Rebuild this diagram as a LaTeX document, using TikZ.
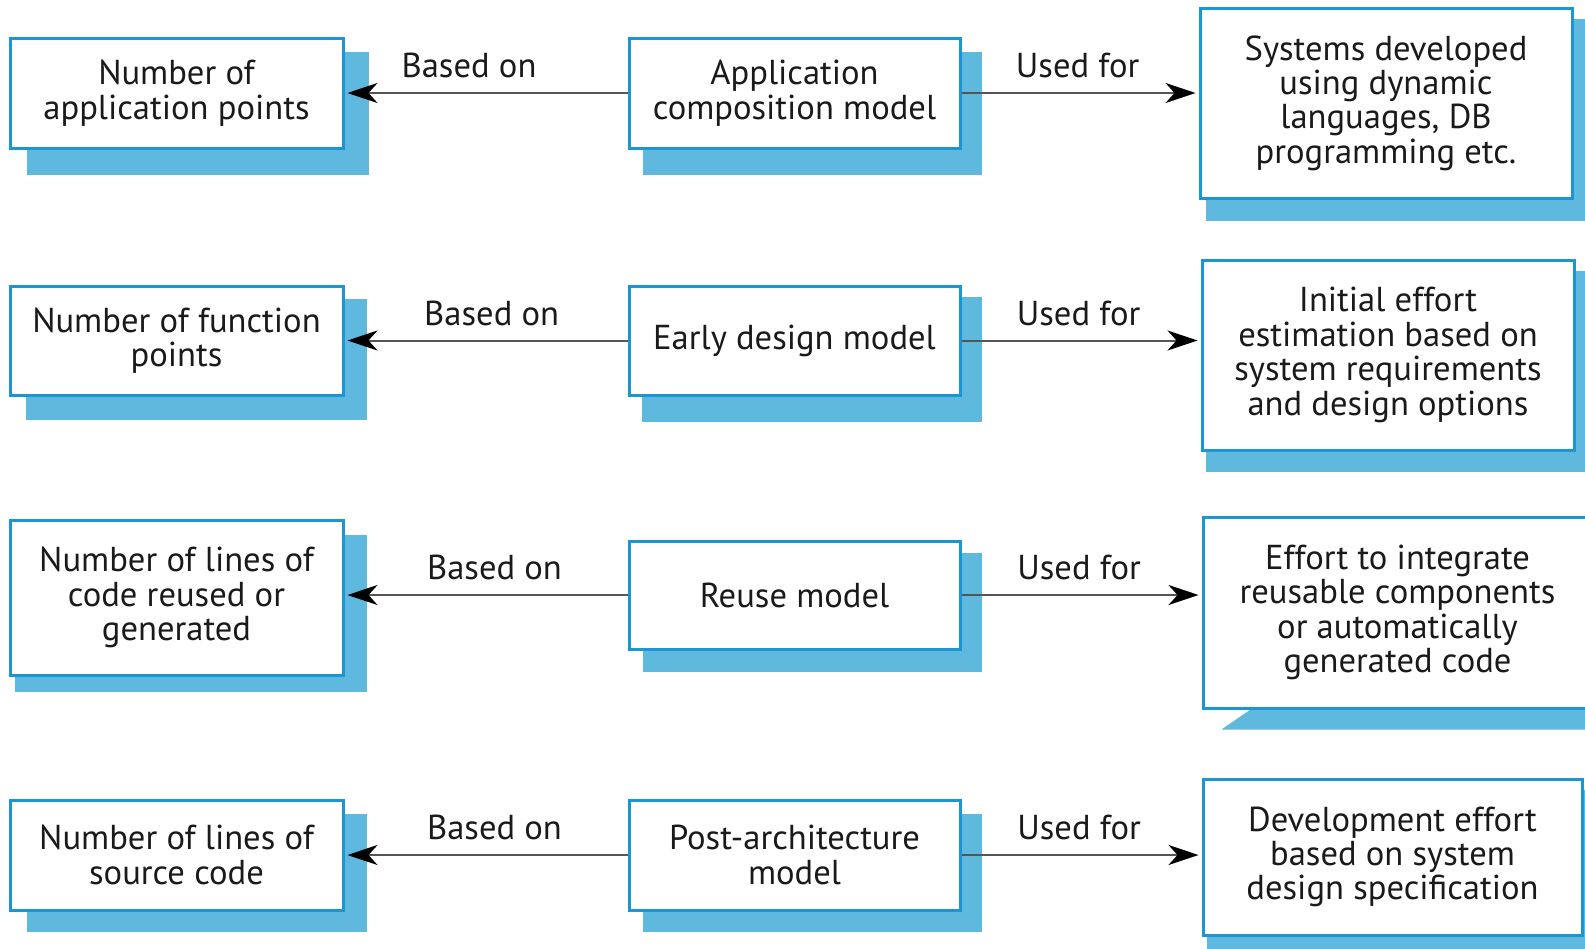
\documentclass[tikz,border=0pt]{standalone}
\usepackage{fontspec}
\setmainfont{PT Sans}
\usetikzlibrary{arrows.meta,calc,backgrounds}
\definecolor{boxblue}{HTML}{1A96D5}
\definecolor{shadeblue}{HTML}{5FB9DE}
\definecolor{textgray}{HTML}{1A1A1A}
\definecolor{linegray}{HTML}{555555}
\tikzset{
  modelbox/.style={draw=boxblue, line width=1.5pt, fill=white, align=center, text=textgray, inner sep=0pt},
  link/.style={draw=linegray, line width=1pt, shorten >=1.5pt, -{Stealth[length=15pt,width=10pt,inset=4.5pt,color=black]}},
  linklabel/.style={above=3.5pt, text=textgray}
}
\begin{document}
\begin{tikzpicture}[x=0.5pt,y=-0.5pt,font=\fontsize{17.3}{17.2}\selectfont]
\useasboundingbox (0,0) rectangle (1585,948);
% input measures
\node[modelbox, minimum width=166.5pt, minimum height=55pt] (pts1) at (176.5,93) {Number of\\application points};
\node[modelbox, minimum width=166.5pt, minimum height=54.5pt] (pts2) at (176.5,340.5) {Number of function\\points};
\node[modelbox, minimum width=166.5pt, minimum height=77.5pt] (pts3) at (176.5,597.5) {Number of lines of\\code reused or\\generated};
\node[modelbox, minimum width=166.5pt, minimum height=55pt] (pts4) at (176.5,855) {Number of lines of\\source code};
% models
\node[modelbox, minimum width=165.5pt, minimum height=55pt] (mod1) at (794.5,93) {Application\\composition model};
\node[modelbox, minimum width=165.5pt, minimum height=54.5pt] (mod2) at (794.5,340.5) {Early design model};
\node[modelbox, minimum width=165.5pt, minimum height=54pt] (mod3) at (794.5,595) {Reuse model};
\node[modelbox, minimum width=165.5pt, minimum height=55pt] (mod4) at (794.5,855) {Post-architecture\\model};
% uses
\node[modelbox, minimum width=186pt, minimum height=95pt] (use1) at (1386,103) {Systems developed\\using dynamic\\languages, DB\\programming etc.};
\node[modelbox, minimum width=186pt, minimum height=95pt] (use2) at (1388,355) {Initial effort\\estimation based on\\system requirements\\and design options};
\node[modelbox, minimum width=194.5pt, minimum height=95.5pt] (use3) at (1397.5,612.5) {Effort to integrate\\reusable components\\or automatically\\generated code};
\node[modelbox, minimum width=189.5pt, minimum height=78pt] (use4) at (1392.5,857) {Development effort\\based on system\\design specification};
% shadows
\begin{scope}[on background layer]
\fill[shadeblue] ($(pts1.south west)+(18,25)$) rectangle ($(pts1.north east)+(24,15)$);
\fill[shadeblue] ($(pts2.south west)+(17,23)$) rectangle ($(pts2.north east)+(22,14)$);
\fill[shadeblue] ($(pts3.south west)+(6,15)$) rectangle ($(pts3.north east)+(22,16)$);
\fill[shadeblue] ($(pts4.south west)+(18,20)$) rectangle ($(pts4.north east)+(22,15)$);
\fill[shadeblue] ($(mod1.south west)+(15,25)$) rectangle ($(mod1.north east)+(20,15)$);
\fill[shadeblue] ($(mod2.south west)+(14,25)$) rectangle ($(mod2.north east)+(20,12)$);
\fill[shadeblue] ($(mod3.south west)+(15,21)$) rectangle ($(mod3.north east)+(20,13)$);
\fill[shadeblue] ($(mod4.south west)+(15,20)$) rectangle ($(mod4.north east)+(20,15)$);
\fill[shadeblue] ($(use1.south west)+(7,21)$) rectangle ($(use1.north east)+(20,12)$);
\fill[shadeblue] ($(use2.south west)+(5,20)$) rectangle ($(use2.north east)+(20,12)$);
\fill[shadeblue] ($(use3.south west)+(49,0)$) -- ($(use3.south west)+(20,20)$) -| ($(use3.north east)+(20,12)$) -- cycle;
\fill[shadeblue] ($(use4.south west)+(5,20)$) rectangle ($(use4.north east)+(20,12)$);
\end{scope}
% connectors
\draw[link] (mod1.west) -- node[linklabel, pos=0.56] {Based on} (mod1.west -| pts1.east);
\draw[link] (mod2.west) -- node[linklabel, pos=0.48] {Based on} (mod2.west -| pts2.east);
\draw[link] (mod3.west) -- node[linklabel, pos=0.47] {Based on} (mod3.west -| pts3.east);
\draw[link] (mod4.west) -- node[linklabel, pos=0.47] {Based on} (mod4.west -| pts4.east);
\draw[link] (mod1.east) -- node[linklabel, pos=0.49] {Used for} (mod1.east -| use1.west);
\draw[link] (mod2.east) -- node[linklabel, pos=0.49] {Used for} (mod2.east -| use2.west);
\draw[link] (mod3.east) -- node[linklabel, pos=0.49] {Used for} (mod3.east -| use3.west);
\draw[link] (mod4.east) -- node[linklabel, pos=0.49] {Used for} (mod4.east -| use4.west);
\end{tikzpicture}
\end{document}
